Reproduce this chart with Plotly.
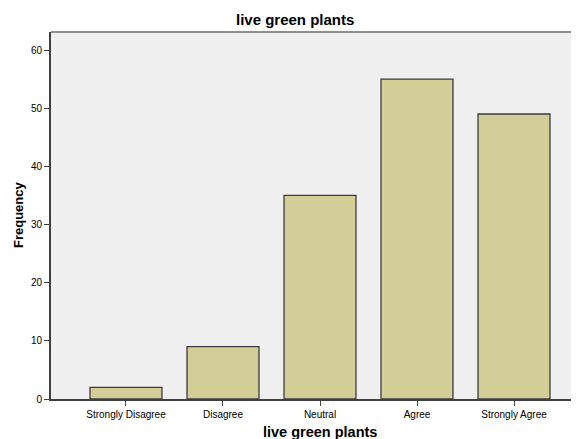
import plotly.graph_objects as go

categories = ["Strongly Disagree", "Disagree", "Neutral", "Agree", "Strongly Agree"]
frequency = [2, 9, 35, 55, 49]
y_ticks = [0, 10, 20, 30, 40, 50, 60]

# page body has an 8px margin; compensate so the chart lands where the reference has it
OFF = 8
L, T, B = 51 - OFF, 32 - OFF, 40
W, H = 579 - OFF, 439 - OFF
pw, ph = W - L, H - T - B

def px(x):
    return (x - OFF - L) / pw

def py(y):
    return (H - B - (y - OFF)) / ph

fig = go.Figure()
fig.add_trace(go.Bar(
    x=list(range(len(categories))),
    y=frequency,
    width=0.742,
    marker=dict(color="#d3ce98", line=dict(color="#3c3c3c", width=1.3)),
))

title_font = dict(family="Liberation Sans, Arial, sans-serif", color="#000000")

fig.update_layout(
    width=W, height=H,
    margin=dict(l=L, r=0, t=T, b=B, autoexpand=False),
    paper_bgcolor="white",
    plot_bgcolor="#f0f0f0",
    showlegend=False,
    font=dict(family="Liberation Sans, Arial, sans-serif", color="#000000"),
    xaxis=dict(
        range=[-0.773, 4.67],
        tickmode="array", tickvals=list(range(len(categories))), ticktext=categories,
        ticks="outside", ticklen=5, tickcolor="#404040", tickwidth=1,
        showline=True, linecolor="#404040", linewidth=2,
        showgrid=False, zeroline=False, automargin=False,
        tickfont=dict(size=10),
    ),
    yaxis=dict(
        range=[0, 63.1],
        tickmode="array", tickvals=y_ticks,
        ticks="outside", ticklen=5, tickcolor="#404040", tickwidth=1,
        showline=True, linecolor="#404040", linewidth=2,
        showgrid=False, zeroline=False, automargin=False,
        tickfont=dict(size=10),
    ),
    shapes=[dict(type="line", xref="paper", yref="paper", x0=0, x1=1, y0=1, y1=1,
                 line=dict(color="#909090", width=2))],
    annotations=[
        dict(text="<b>live green plants</b>", xref="paper", yref="paper",
             x=px(295), y=py(20), xanchor="center", yanchor="middle",
             showarrow=False, font=dict(size=15, **title_font)),
        dict(text="<b>live green plants</b>", xref="paper", yref="paper",
             x=px(320), y=py(432), xanchor="center", yanchor="middle",
             showarrow=False, font=dict(size=14.5, **title_font)),
        dict(text="<b>Frequency</b>", xref="paper", yref="paper",
             x=px(18), y=py(215), xanchor="center", yanchor="middle",
             textangle=-90, showarrow=False, font=dict(size=13, **title_font)),
    ],
)

fig.write_html("out.html")
